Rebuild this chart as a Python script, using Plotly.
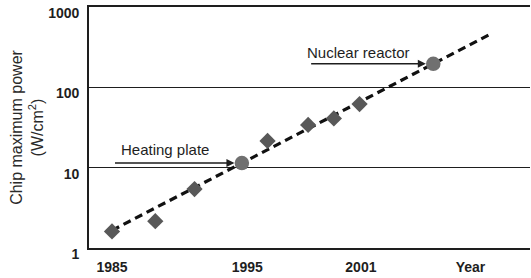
import numpy as np
import plotly.graph_objects as go

# ---- data ----
diamond_years = [1985.0, 1988.2, 1991.1, 1996.5, 1999.5, 2001.4, 2003.3]
diamond_power = [1.6, 2.15, 5.4, 21.5, 34, 41, 62]

circle_years = [1994.6, 2008.75]
circle_power = [11.4, 197]
circle_labels = ["Heating plate", "Nuclear reactor"]

trend_years = [1985.0, 2012.9]
trend_power = [1.65, 454]

y_tick_values = [1, 10, 100, 1000]
y_tick_labels = ["1", "10", "100", "1000"]
x_tick_positions = [1985, 1995, 2003.4, 2011.5]
x_tick_labels = ["1985", "1995", "2001", "Year"]

arrow_tail_years = [1985.0, 1999.5]
text_left_years = [1985.5, 1999.3]

FONT = "Liberation Sans, Arial, sans-serif"
INK = "#1e1e1e"

fig = go.Figure()

fig.add_trace(go.Scatter(
    x=trend_years, y=trend_power, mode="lines",
    line=dict(color="#111111", width=3.2, dash="8px,5px"),
    hoverinfo="skip", showlegend=False))

fig.add_trace(go.Scatter(
    x=diamond_years, y=diamond_power, mode="markers",
    marker=dict(symbol="diamond", size=12.5, color="#585858"),
    showlegend=False))

fig.add_trace(go.Scatter(
    x=circle_years, y=circle_power, mode="markers",
    marker=dict(symbol="circle", size=14.5, color="#707070"),
    showlegend=False))

annotations = []
shifts = [14, 11]
for cy, cp, lab, ty, tx, sh in zip(circle_years, circle_power, circle_labels,
                                    arrow_tail_years, text_left_years, shifts):
    ly = float(np.log10(cp))
    annotations.append(dict(
        x=cy - 0.55, y=ly, xref="x", yref="y",
        ax=ty, ay=ly, axref="x", ayref="y",
        showarrow=True, arrowhead=2, arrowsize=1, arrowwidth=1.6,
        arrowcolor=INK, text=" "))
    annotations.append(dict(
        x=tx, y=ly, xref="x", yref="y", xanchor="left", yanchor="middle",
        yshift=sh, showarrow=False, text=lab,
        font=dict(family=FONT, size=15, color=INK)))

fig.update_layout(
    width=531, height=278,
    margin=dict(l=89, r=1, t=7, b=30, autoexpand=False),
    paper_bgcolor="white", plot_bgcolor="white",
    annotations=annotations,
    xaxis=dict(
        range=[1983.3, 2015.9], showgrid=False, zeroline=False, automargin=False,
        showline=True, linecolor=INK, linewidth=1.6, mirror=True,
        tickmode="array", tickvals=x_tick_positions, ticktext=x_tick_labels,
        ticks="", ticklabelstandoff=5,
        tickfont=dict(family=FONT, size=14, color=INK, weight="bold")),
    yaxis=dict(
        type="log", range=[-0.002, 3.002], showgrid=True, gridcolor=INK, gridwidth=1.2,
        zeroline=False, showline=True, linecolor=INK, linewidth=1.6, automargin=False,
        tickmode="array", tickvals=y_tick_values, ticktext=y_tick_labels,
        ticks="", ticklabelstandoff=5, ticklabeloverflow="allow", ticklabelshift=6,
        tickfont=dict(family=FONT, size=14, color=INK, weight="bold"),
        title=dict(text="Chip maximum power<br>(W/cm<sup>2</sup>)", standoff=1,
                   font=dict(family=FONT, size=16, color="#2a2a2a"))),
)

fig.write_html("out.html", config={"displayModeBar": False},
               post_script="document.body.style.margin='0px';document.body.style.overflow='hidden';")
